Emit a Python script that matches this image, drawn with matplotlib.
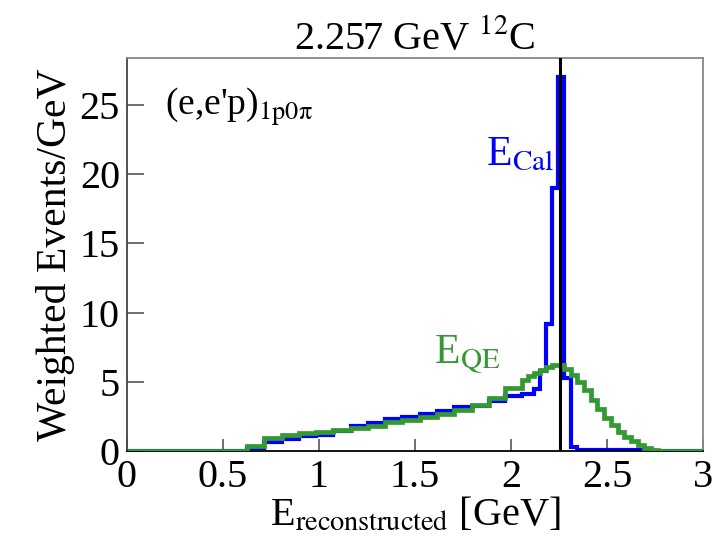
import numpy as np
import matplotlib
matplotlib.use("Agg")
import matplotlib.pyplot as plt

plt.rcParams["font.family"] = ["Liberation Serif", "DejaVu Serif"]
plt.rcParams["mathtext.fontset"] = "stix"

# bin edges (GeV): coarse bins up to ~2.06, fine bins around the peak
bin_edges = [0.0, 0.625, 0.715, 0.805, 0.895, 0.985, 1.075, 1.165, 1.255, 1.345,
             1.435, 1.525, 1.615, 1.705, 1.795, 1.885, 1.97, 2.056,
             2.088, 2.118, 2.15, 2.18, 2.212, 2.243, 2.276, 2.31, 2.345, 2.38,
             2.415, 2.45, 2.485, 2.52, 2.555, 2.59, 2.625, 2.66, 2.695, 2.73,
             2.765, 3.0]

# weighted events / GeV per bin
e_cal = [0.0, 0.2, 0.66, 0.9, 1.07, 1.19, 1.43, 1.82, 2.0, 2.3,
         2.48, 2.7, 2.9, 3.15, 3.25, 3.6, 4.0,
         4.1, 4.15, 4.45, 5.8, 9.2, 19.0, 27.0, 5.3, 0.3, 0.08,
         0.08, 0.08, 0.08, 0.08, 0.08, 0.08, 0.08, 0.08, 0.08, 0.08,
         0.0, 0.0]
e_qe = [0.0, 0.35, 0.95, 1.19, 1.31, 1.38, 1.55, 1.67, 1.82, 2.06,
        2.23, 2.43, 2.66, 2.95, 3.35, 3.85, 4.55,
        5.15, 5.39, 5.64, 5.87, 6.04, 6.18, 6.2, 5.95, 5.5, 5.0,
        4.4, 3.7, 3.0, 2.35, 1.85, 1.4, 1.0, 0.7, 0.42, 0.22,
        0.08, 0.0]

beam_energy = 2.257

fig = plt.figure(figsize=(7.13, 5.47), dpi=100)
ax = fig.add_axes([0.178, 0.1755, 0.808, 0.719])

ax.stairs(e_cal, bin_edges, color="#0000ff", lw=3.0, zorder=2)
ax.stairs(e_qe, bin_edges, color="#349933", lw=3.4, zorder=3)
ax.axvline(beam_energy, color="black", lw=2.2, zorder=4)

ax.set_xlim(0, 3)
ax.set_ylim(0, 28.4)
ax.set_xticks([0, 0.5, 1, 1.5, 2, 2.5, 3])
ax.set_xticklabels(["0", "0.5", "1", "1.5", "2", "2.5", "3"])
ax.set_yticks([0, 5, 10, 15, 20, 25])

ax.tick_params(axis="x", direction="in", length=9, width=1.2, color="#555555",
               labelsize=29, pad=6)
ax.tick_params(axis="y", direction="in", length=12, width=1.2, color="#555555",
               labelsize=29, pad=5)
ax.spines["bottom"].set_color("black")
ax.spines["left"].set_color("#444444")
ax.spines["top"].set_color("#888888")
ax.spines["right"].set_color("#888888")
for s in ax.spines.values():
    s.set_linewidth(1.3)

ax.set_title(r"2.257 GeV $^{12}$C", fontsize=29, pad=6)
ax.set_xlabel(r"E$_{\mathrm{reconstructed}}$ [GeV]", fontsize=29, labelpad=0)
ax.set_ylabel("Weighted Events/GeV", fontsize=30, labelpad=3)

ax.text(0.2, 24.3, r"(e,e'p)$_{\mathrm{1p0π}}$", fontsize=27, color="black")
ax.text(1.87, 20.6, r"E$_{\mathrm{Cal}}$", fontsize=30, color="#0000ff")
ax.text(1.6, 6.3, r"E$_{\mathrm{QE}}$", fontsize=30, color="#349933")

fig.savefig("out.png", dpi=100)
